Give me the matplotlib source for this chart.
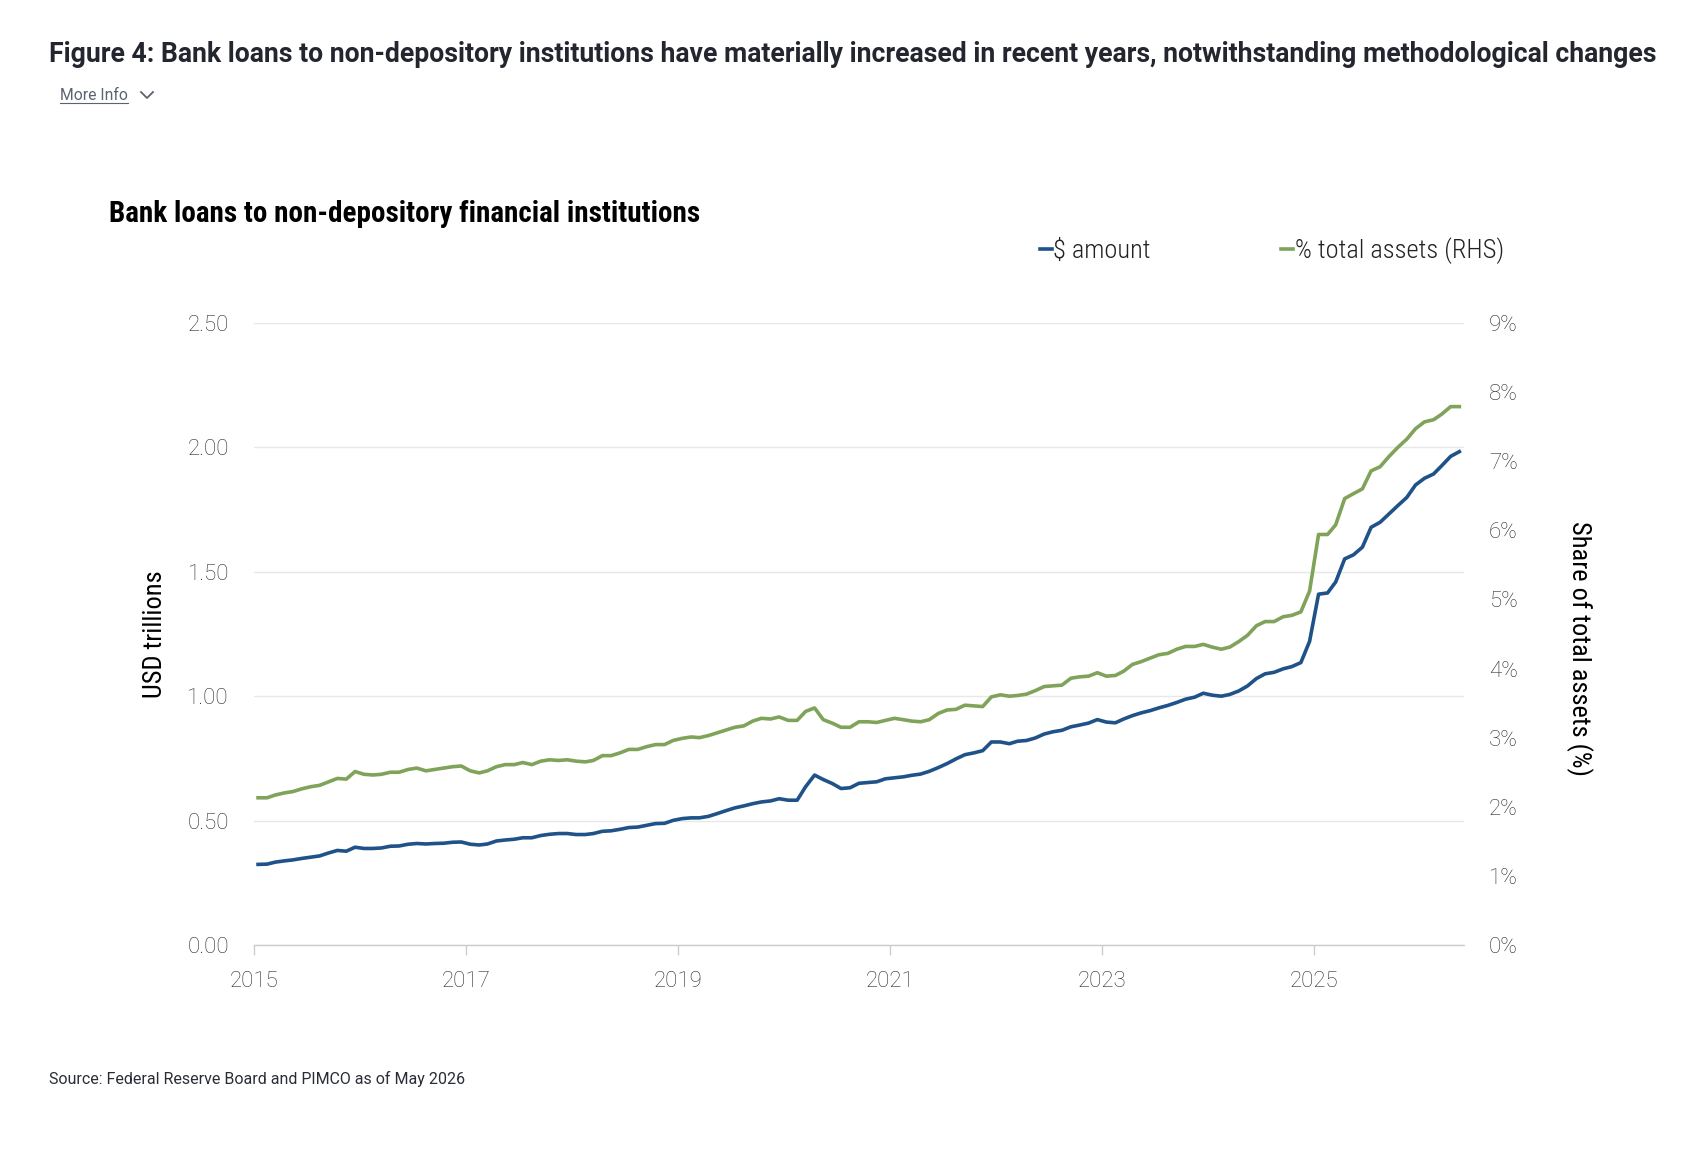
import numpy as np
import pandas as pd
import matplotlib
matplotlib.use("Agg")
import matplotlib.pyplot as plt
import matplotlib.dates as mdates
from matplotlib.lines import Line2D

# ---------------- data (monthly, Jan 2015 - May 2026) ----------------
usd_trillions = [
    0.324, 0.325, 0.333, 0.338, 0.342, 0.348, 0.353, 0.358, 0.370, 0.380, 0.377, 0.393,
    0.388, 0.388, 0.390, 0.397, 0.398, 0.405, 0.408, 0.406, 0.408, 0.409, 0.413, 0.414,
    0.405, 0.402, 0.406, 0.418, 0.422, 0.425, 0.431, 0.431, 0.440, 0.445, 0.448, 0.448,
    0.444, 0.444, 0.448, 0.457, 0.459, 0.465, 0.472, 0.474, 0.481, 0.488, 0.489, 0.501,
    0.508, 0.511, 0.511, 0.517, 0.528, 0.540, 0.551, 0.559, 0.568, 0.575, 0.579, 0.588,
    0.582, 0.582, 0.636, 0.683, 0.665, 0.649, 0.629, 0.632, 0.650, 0.653, 0.656, 0.668,
    0.672, 0.676, 0.682, 0.687, 0.698, 0.713, 0.729, 0.748, 0.765, 0.772, 0.781, 0.816,
    0.816, 0.809, 0.819, 0.822, 0.832, 0.848, 0.857, 0.863, 0.877, 0.884, 0.892, 0.906,
    0.896, 0.893, 0.908, 0.922, 0.933, 0.942, 0.953, 0.963, 0.975, 0.988, 0.996, 1.012,
    1.004, 1.000, 1.007, 1.021, 1.041, 1.071, 1.090, 1.096, 1.110, 1.119, 1.135, 1.220,
    1.410, 1.415, 1.459, 1.552, 1.568, 1.599, 1.679, 1.699, 1.733, 1.766, 1.799, 1.849,
    1.876, 1.893, 1.926, 1.964, 1.983,
]
pct_total_assets = [
    2.13, 2.13, 2.17, 2.20, 2.22, 2.26, 2.29, 2.31, 2.36, 2.41, 2.40, 2.51,
    2.47, 2.46, 2.47, 2.50, 2.50, 2.54, 2.56, 2.52, 2.54, 2.56, 2.58, 2.59,
    2.52, 2.49, 2.52, 2.58, 2.61, 2.61, 2.64, 2.61, 2.66, 2.68, 2.67, 2.68,
    2.66, 2.65, 2.67, 2.74, 2.74, 2.78, 2.83, 2.83, 2.87, 2.90, 2.90, 2.96,
    2.99, 3.01, 3.00, 3.03, 3.07, 3.11, 3.15, 3.17, 3.24, 3.28, 3.27, 3.30,
    3.25, 3.25, 3.38, 3.43, 3.26, 3.21, 3.15, 3.15, 3.23, 3.23, 3.22, 3.25,
    3.28, 3.26, 3.24, 3.23, 3.26, 3.35, 3.40, 3.41, 3.47, 3.46, 3.45, 3.59,
    3.62, 3.60, 3.61, 3.63, 3.68, 3.74, 3.75, 3.76, 3.86, 3.88, 3.89, 3.94,
    3.89, 3.90, 3.96, 4.06, 4.10, 4.15, 4.20, 4.22, 4.28, 4.32, 4.32, 4.35,
    4.31, 4.28, 4.31, 4.39, 4.48, 4.62, 4.68, 4.68, 4.75, 4.77, 4.82, 5.12,
    5.94, 5.94, 6.08, 6.46, 6.53, 6.60, 6.86, 6.92, 7.07, 7.20, 7.32, 7.47,
    7.57, 7.60, 7.68, 7.79, 7.79,
]
dates = pd.date_range("2015-01-01", periods=len(usd_trillions), freq="MS") + pd.Timedelta(days=14)

left_ticks = [0.0, 0.5, 1.0, 1.5, 2.0, 2.5]
left_ticklabels = ["0.00", "0.50", "1.00", "1.50", "2.00", "2.50"]
right_ticks = [0, 1, 2, 3, 4, 5, 6, 7, 8, 9]
right_ticklabels = [f"{v}%" for v in right_ticks]
x_tick_years = [2015, 2017, 2019, 2021, 2023, 2025]

BLUE = "#1f5288"
GREEN = "#80a35a"
TICK_COLOR = "#2e2e2e"
COND = ["Roboto Condensed", "Roboto", "DejaVu Sans"]

plt.rcParams["font.family"] = ["Roboto", "DejaVu Sans"]

W, H = 1688, 1162
fig = plt.figure(figsize=(W / 100, H / 100), dpi=100)
fig.patch.set_facecolor("white")

ax = fig.add_axes([254 / W, 1 - 945 / H, (1464 - 254) / W, (945 - 323) / H])
ax2 = ax.twinx()

l1, = ax.plot(dates, usd_trillions, color=BLUE, lw=2.6, solid_joinstyle="round", zorder=3)
l2, = ax2.plot(dates, pct_total_assets, color=GREEN, lw=2.6, solid_joinstyle="round", zorder=3)

ax.set_ylim(0, 2.5)
ax2.set_ylim(0, 9)
ax.set_xlim(pd.Timestamp("2015-01-01"), pd.Timestamp("2026-05-31"))

ax.set_yticks(left_ticks)
ax.set_yticklabels(left_ticklabels)
ax2.set_yticks(right_ticks)
ax2.set_yticklabels(right_ticklabels)
ax.set_xticks([pd.Timestamp(f"{y}-01-01") for y in x_tick_years])
ax.xaxis.set_major_formatter(mdates.DateFormatter("%Y"))

ax.grid(axis="y", color="#e8e8e8", lw=1.0)
ax.set_axisbelow(True)
for a in (ax, ax2):
    for s in ("top", "left", "right", "bottom"):
        a.spines[s].set_visible(False)
ax.spines["bottom"].set_visible(True)
ax.spines["bottom"].set_color("#cccccc")
ax.spines["bottom"].set_linewidth(1.0)

ax.tick_params(axis="y", length=0, pad=18, labelcolor=TICK_COLOR, labelsize=16)
ax2.tick_params(axis="y", length=0, pad=18, labelcolor=TICK_COLOR, labelsize=16)
ax.tick_params(axis="x", length=7, width=1, color="#cccccc", pad=12, labelcolor=TICK_COLOR, labelsize=16)
for lab in ax.get_yticklabels() + ax2.get_yticklabels() + ax.get_xticklabels():
    lab.set_fontweight("light")

ax.set_ylabel("USD trillions", fontsize=19, color="black", labelpad=15, family=COND)
ax2.set_ylabel("Share of total assets (%)", fontsize=19, color="black", rotation=-90,
               labelpad=35, va="bottom", family=COND)
ax2.yaxis.label.set_y(0.476)

# titles
fig.text(49 / W, 1 - 55 / H, "Figure 4: Bank loans to non-depository institutions have materially "
         "increased in recent years, notwithstanding methodological changes",
         fontsize=19.2, fontweight="bold", color="#23262f", va="center", ha="left")
fig.text(60 / W, 1 - 95 / H, "More Info", fontsize=11.3, color="#5b6270", va="center", ha="left")
fig.add_artist(Line2D([60 / W, 128 / W], [1 - 103 / H, 1 - 103 / H], color="#5b6270", lw=0.8))
fig.add_artist(Line2D([141 / W, 147 / W, 153 / W], [1 - 92 / H, 1 - 98 / H, 1 - 92 / H],
                      color="#5b6270", lw=1.3))
fig.text(109 / W, 1 - 214 / H, "Bank loans to non-depository financial institutions",
         fontsize=21, fontweight="bold", color="black", va="center", ha="left", family=COND)

leg = fig.legend([l1, l2], ["$ amount", "% total assets (RHS)"],
                 loc="center left", bbox_to_anchor=(1040 / W, 1 - 251 / H),
                 ncol=2, frameon=False,
                 prop={"family": COND, "weight": "light", "size": 19},
                 handlelength=0.45, handletextpad=0.05, columnspacing=4.95,
                 borderaxespad=0, borderpad=0)
for t in leg.get_texts():
    t.set_color("#222222")

fig.text(49 / W, 1 - 1079 / H, "Source: Federal Reserve Board and PIMCO as of May 2026",
         fontsize=11.5, color="#2a2d36", va="center", ha="left")

fig.savefig("out.png", dpi=100, facecolor="white")
